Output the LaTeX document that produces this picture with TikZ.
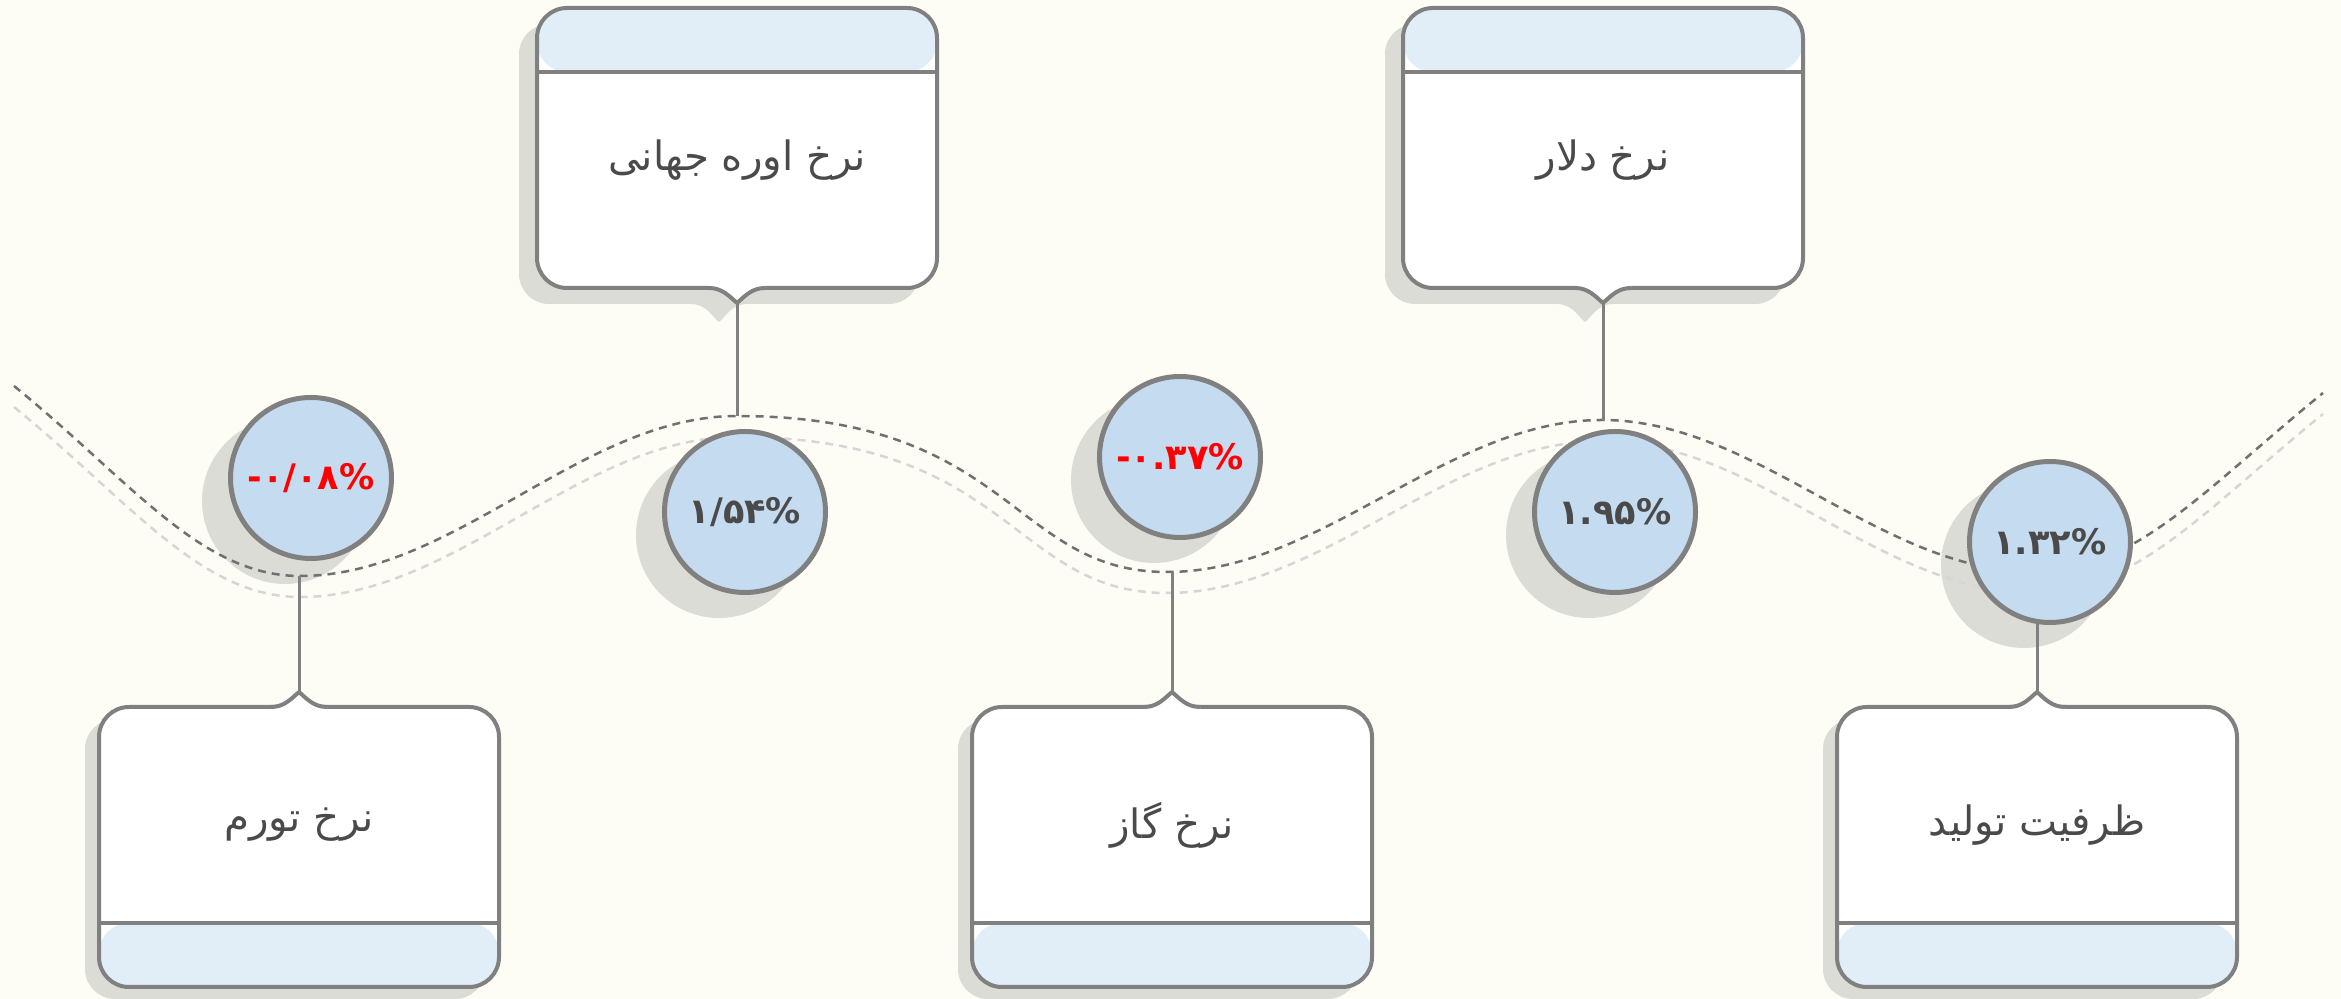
\documentclass[tikz,border=0pt]{standalone}
\usepackage{fontspec}
\usepackage{xcolor}
\usetikzlibrary{calc}
\TeXXeTstate=1
\newfontfamily\arabicfont[Script=Arabic]{DejaVu Sans}
\newfontfamily\digitfont{DejaVu Sans}
\definecolor{PaperBG}   {HTML}{FEFDF5}
\definecolor{EdgeGray}  {HTML}{808080}
\definecolor{ShadowGray}{HTML}{DCDCD6}
\definecolor{BandBlue}  {HTML}{E1EEF8}
\definecolor{DotBlue}   {HTML}{C5DCF0}
\definecolor{InkGray}   {HTML}{4A4A4A}
\definecolor{TrackDark} {HTML}{707070}
\definecolor{TrackLight}{HTML}{D6D6D6}
\definecolor{LossRed}   {HTML}{FF0000}
\tikzset{
  x=0.1mm,y=-0.1mm,
  edge/.style={draw=EdgeGray,line width=0.4mm,line join=round},
  card/.style={edge,fill=white,rounded corners=3mm,outer sep=0pt,inner sep=0pt,
               minimum width=40mm,minimum height=28mm},
  cardtop/.style={card,path picture={
      \fill[BandBlue] (path picture bounding box.north west) rectangle
        ([yshift=-6.4mm]path picture bounding box.north east);
      \draw[edge] ([yshift=-6.4mm]path picture bounding box.north west) --
        ([yshift=-6.4mm]path picture bounding box.north east);}},
  cardbot/.style={card,path picture={
      \fill[BandBlue] (path picture bounding box.south west) rectangle
        ([yshift=6.4mm]path picture bounding box.south east);
      \draw[edge] ([yshift=6.4mm]path picture bounding box.south west) --
        ([yshift=6.4mm]path picture bounding box.south east);}},
  cardtext/.style={font=\arabicfont\fontsize{11.5}{14}\selectfont,text=InkGray},
  dot/.style={circle,draw=EdgeGray,line width=0.5mm,fill=DotBlue,minimum size=16.1mm,
              inner sep=0pt,font=\digitfont\bfseries\fontsize{10}{12}\selectfont,text=InkGray},
  dotshadow/.style={fill=ShadowGray},
  track/.style={dash pattern=on 0.8mm off 0.6mm,line width=0.25mm},
  stem/.style={draw=EdgeGray,line width=0.3mm}
}
% bump on a card edge: #1 anchor, #2 direction (1 down, -1 up), #3 tip name
\newcommand{\cardtip}[3]{%
  \fill[white] ($(#1)+(-28,-3*#2)$) -- ($(#1)+(-28,0)$)
    .. controls ($(#1)+(-15,0)$) and ($(#1)+(-8,8*#2)$) .. ($(#1)+(0,15*#2)$)
    .. controls ($(#1)+(8,8*#2)$) and ($(#1)+(15,0)$) .. ($(#1)+(28,0)$)
    -- ($(#1)+(28,-3*#2)$) -- cycle;
  \draw[edge] ($(#1)+(-28,0)$)
    .. controls ($(#1)+(-15,0)$) and ($(#1)+(-8,8*#2)$) .. ($(#1)+(0,15*#2)$) coordinate (#3)
    .. controls ($(#1)+(8,8*#2)$) and ($(#1)+(15,0)$) .. ($(#1)+(28,0)$);}
\newcommand{\cardshade}[2]{%
  \fill[ShadowGray,rounded corners=3mm] ($(#1.north west)+(-18,16)$) rectangle ($(#1.south east)+(-18,16)$);
  \fill[ShadowGray] ($(#1.#2)+(-46,16)$) .. controls ($(#1.#2)+(-30,16)$) and ($(#1.#2)+(-24,30)$) ..
    ($(#1.#2)+(-18,34)$) .. controls ($(#1.#2)+(-12,30)$) and ($(#1.#2)+(-6,16)$) .. ($(#1.#2)+(10,16)$) -- cycle;}

\begin{document}
\begin{tikzpicture}
  \fill[PaperBG] (0,0) rectangle (2341,999);
  \useasboundingbox (0,0) rectangle (2341,999);

  \path (737,148) coordinate (urea-c) (1603,148) coordinate (dollar-c)
        (299,847) coordinate (infl-c) (1172,847) coordinate (gas-c) (2037,847) coordinate (cap-c);

  \path[draw=none] node[card,draw=none,fill=none] (urea) at (urea-c) {}
        node[card,draw=none,fill=none] (dollar) at (dollar-c) {}
        node[card,draw=none,fill=none] (infl) at (infl-c) {}
        node[card,draw=none,fill=none] (gas) at (gas-c) {}
        node[card,draw=none,fill=none] (cap) at (cap-c) {};
  \cardshade{urea}{south}
  \cardshade{dollar}{south}
  \fill[ShadowGray,rounded corners=3mm] ($(infl.north west)+(-14,12)$) rectangle ($(infl.south east)+(-14,12)$);
  \fill[ShadowGray,rounded corners=3mm] ($(gas.north west)+(-14,12)$) rectangle ($(gas.south east)+(-14,12)$);
  \fill[ShadowGray,rounded corners=3mm] ($(cap.north west)+(-14,12)$) rectangle ($(cap.south east)+(-14,12)$);

  \node[cardtop] (urea) at (urea-c) {};
  \node[cardtop] (dollar) at (dollar-c) {};
  \node[cardbot] (infl) at (infl-c) {};
  \node[cardbot] (gas) at (gas-c) {};
  \node[cardbot] (cap) at (cap-c) {};
  \cardtip{urea.south}{1}{urea-tip}
  \cardtip{dollar.south}{1}{dollar-tip}
  \cardtip{infl.north}{-1}{infl-tip}
  \cardtip{gas.north}{-1}{gas-tip}
  \cardtip{cap.north}{-1}{cap-tip}

  \node[cardtext] (urea-l) at (737,160) {\beginR نرخ اوره جهانی\endR};
  \node[cardtext] (dollar-l) at (1603,160) {\beginR نرخ دلار\endR};
  \node[cardtext] (infl-l) at (299,825) {\beginR نرخ تورم\endR};
  \node[cardtext] (gas-l) at (1172,825) {\beginR نرخ گاز\endR};
  \node[cardtext] (cap-l) at (2037,825) {\beginR ظرفیت تولید\endR};

  \foreach \cx/\cy in {311/478,745/512,1180/457,1615/512,2050/542}
    \fill[dotshadow] (\cx-26,\cy+23) circle[radius=8.3mm];

  \draw[track,TrackLight] (14,407) .. controls (130,501) and (200,597) .. (300,597)
    .. controls (455,597) and (582,437) .. (737,437)
    .. controls (1012,437) and (1012,593) .. (1167,593)
    .. controls (1322,593) and (1447,441) .. (1602,441)
    .. controls (1757,441) and (1880,593) .. (2035,593)
    .. controls (2135,593) and (2207,508) .. (2323,414);
  \draw[track,TrackDark] (14,386) .. controls (130,480) and (200,576) .. (300,576) coordinate (t1)
    .. controls (455,576) and (582,416) .. (737,416) coordinate (t2)
    .. controls (1012,416) and (1012,572) .. (1167,572) coordinate (t3)
    .. controls (1322,572) and (1447,420) .. (1602,420) coordinate (t4)
    .. controls (1757,420) and (1880,572) .. (2035,572) coordinate (t5)
    .. controls (2135,572) and (2207,487) .. (2323,393);

  \draw[stem] (urea-tip) -- (urea-tip |- t2);
  \draw[stem] (dollar-tip) -- (dollar-tip |- t4);
  \draw[stem] (infl-tip) -- (infl-tip |- t1);
  \draw[stem] (gas-tip) -- (gas-tip |- t3);
  \draw[stem] (cap-tip) -- (cap-tip |- t5);

  \node[dot,text=LossRed] (c1) at (311,478) {\beginL-۰/۰۸\%\endL};
  \node[dot] (c2) at (745,512) {۱/۵۴\%};
  \node[dot,text=LossRed] (c3) at (1180,457) {\beginL-۰.۳۷\%\endL};
  \node[dot] (c4) at (1615,512) {۱.۹۵\%};
  \node[dot] (c5) at (2050,542) {۱.۳۲\%};
\end{tikzpicture}
\end{document}
